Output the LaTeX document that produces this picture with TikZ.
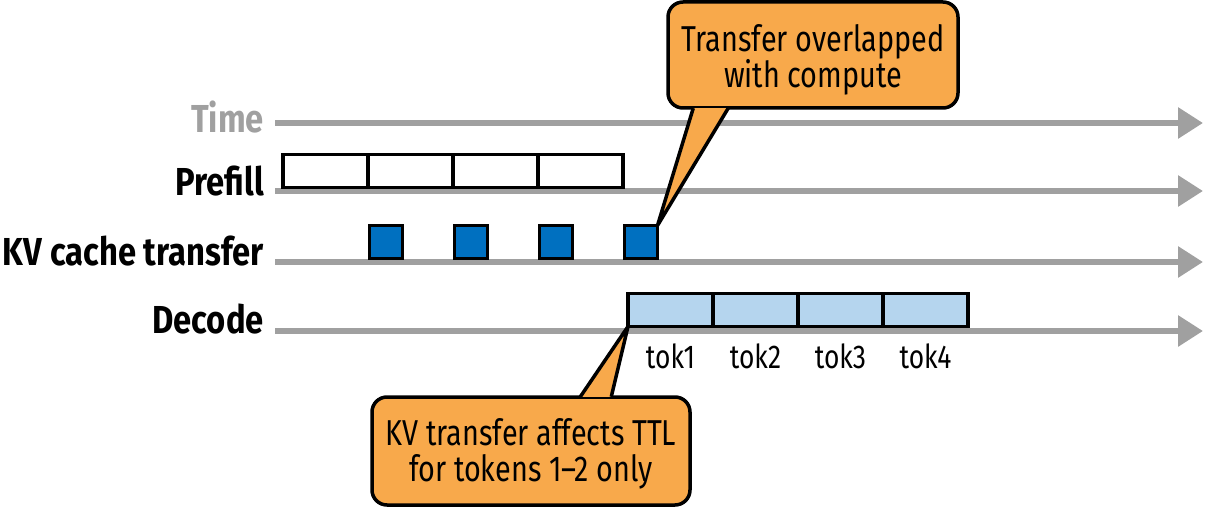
\documentclass[tikz,border=0pt]{standalone}
\usepackage{fontspec}
\setmainfont{Fira Sans}[FakeStretch=0.8]
\newfontfamily\labelfont{Fira Sans}[FakeStretch=0.84]
\usetikzlibrary{positioning,arrows.meta}

\definecolor{calloutorange}{HTML}{F8A94B}
\definecolor{kvblue}{HTML}{0070C0}
\definecolor{toklight}{HTML}{B5D5EE}
\definecolor{linegray}{HTML}{A0A0A0}

\tikzset{
  timeline/.style={linegray, line width=6pt, -{Triangle[length=25pt,width=30pt]}},
  rowlabel/.style={anchor=base east, inner sep=0pt, font=\fontsize{39}{40}\labelfont\bfseries},
  cell/.style={draw, line width=3.5pt, minimum width=85pt, minimum height=33pt, inner sep=0pt, outer sep=0pt},
  kvbox/.style={draw, fill=kvblue, line width=3.5pt, minimum size=33pt, inner sep=0pt, outer sep=0pt},
  toklabel/.style={anchor=base, inner sep=0pt, font=\fontsize{33}{36}\selectfont},
  callout/.style={draw, fill=calloutorange, line width=3.5pt, rounded corners=15pt, inner sep=0pt},
  callouttext/.style={align=center, inner sep=0pt, font=\fontsize{36}{36}\selectfont},
  pointer/.style={draw, fill=calloutorange, line width=3.5pt, line join=round},
}

\begin{document}
\begin{tikzpicture}[x=1pt, y=-1pt]
  \useasboundingbox (0,0) rectangle (1205,508);

  % time axes
  \coordinate (time-s) at (275,123);   \coordinate (time-e) at (1203,123);
  \coordinate (pre-s) at (275,191);    \coordinate (pre-e) at (1203,191);
  \coordinate (kv-s) at (275,262);     \coordinate (kv-e) at (1203,262);
  \coordinate (dec-s) at (275,331);    \coordinate (dec-e) at (1203,331);
  \foreach \row in {time, pre, kv, dec}
    \draw[timeline] (\row-s) -- (\row-e);

  \node[rowlabel, linegray] (time) at (264,133) {Time};
  \node[rowlabel] (prefill) at (264,196) {Prefill};
  \node[rowlabel] (kvcache) at (264,265) {KV cache transfer};
  \node[rowlabel] (decode) at (264,333) {Decode};

  % prefill chunks
  \node[cell, fill=white] (p1) at (325.5,171) {};
  \foreach \i [count=\j from 2] in {1,2,3}
    \node[cell, fill=white, right=0pt of p\i] (p\j) {};

  % kv transfers
  \foreach \i in {1,...,4}
    \node[kvbox, anchor=north west] (k\i) at ([xshift=1.5pt, yshift=-38pt]p\i.south east) {};

  % decode steps
  \node[cell, fill=toklight] (d1) at (670.5,310) {};
  \foreach \i [count=\j from 2] in {1,2,3}
    \node[cell, fill=toklight, right=0pt of d\i] (d\j) {};
  \foreach \i in {1,...,4}
    \node[toklabel] (tok\i) at ([yshift=-42pt]d\i.south) {tok\i};

  % callouts
  \node[callout, minimum width=290pt, minimum height=106pt] (overlap) at (813,55) {};
  \draw[pointer] ([xshift=27pt, yshift=1.6pt]overlap.south west) -- (k4.north east)
    -- ([xshift=62pt, yshift=1.6pt]overlap.south west);
  \node[callouttext] (overlap-text) at ([yshift=-5pt]overlap.center)
    {Transfer overlapped\\with compute};

  \node[callout, minimum width=318pt, minimum height=108pt] (ttl) at (531,451) {};
  \draw[pointer] ([xshift=210pt, yshift=-1.6pt]ttl.north west) -- (d1.south west)
    -- ([xshift=241pt, yshift=-1.6pt]ttl.north west);
  \node[callouttext] (ttl-text) at ([yshift=-3pt]ttl.center)
    {KV transfer affects TTL\\for tokens 1--2 only};
\end{tikzpicture}
\end{document}
